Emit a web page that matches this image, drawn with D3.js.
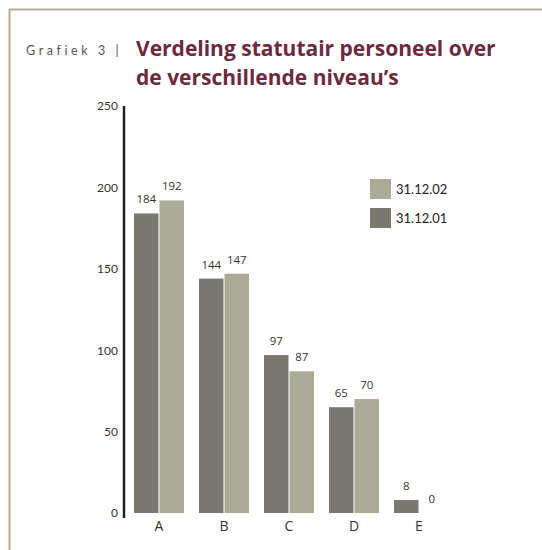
<!DOCTYPE html>
<html><head><meta charset="utf-8">
<script src="https://cdn.jsdelivr.net/npm/d3@7"></script>
<style>body{margin:0;background:#fff}svg{display:block}</style>
</head><body>
<script>
const categories = ["A","B","C","D","E"];
const series = ["31.12.01","31.12.02"];
const values2001 = [184,144,97,65,8];
const values2002 = [192,147,87,70,0];
const yTicks = [0,50,100,150,200,250];
const colors = {"31.12.01":"#7a7871","31.12.02":"#abaa96"};

const W=542,H=550;
const svg=d3.select("body").append("svg").attr("width",W).attr("height",H);
// frame
svg.append("line").attr("x1",9).attr("x2",W).attr("y1",9.5).attr("y2",9.5).attr("stroke","#b8ab90").attr("stroke-width",2);
svg.append("line").attr("x1",9.5).attr("x2",9.5).attr("y1",9).attr("y2",H).attr("stroke","#b8ab90").attr("stroke-width",2);

// titles
svg.append("text").attr("x",26).attr("y",55).attr("font-family","Lato, sans-serif").attr("font-size",12.5)
  .attr("letter-spacing",3.6).attr("fill","#555").text("Grafiek 3 |");
const t=svg.append("text").attr("font-family","Open Sans, sans-serif").attr("font-weight","bold").attr("font-size",21).attr("fill","#6c2a40");
t.append("tspan").attr("x",136).attr("y",56).text("Verdeling statutair personeel over");
t.append("tspan").attr("x",136).attr("y",85).text("de verschillende niveau’s");

const y=d3.scaleLinear().domain([0,250]).range([513,106]);
const x0=d3.scaleBand().domain(categories).range([134,444]).paddingInner(15/65).paddingOuter(0).align(0);
const x1=d3.scaleBand().domain(series).range([0,x0.bandwidth()]).paddingInner(0.04);

// axis
const ax=svg.append("g").attr("transform","translate(124,0)")
  .call(d3.axisLeft(y).tickValues(yTicks).tickSize(0).tickPadding(6));
ax.select(".domain").remove();
svg.append("line").attr("x1",124).attr("x2",124).attr("y1",106).attr("y2",518).attr("stroke","#222").attr("stroke-width",2.5);
ax.selectAll("text").attr("font-family","Lato, sans-serif").attr("font-size",12).attr("fill","#333");

const data=categories.map((c,i)=>({c,vals:[{s:"31.12.01",v:values2001[i]},{s:"31.12.02",v:values2002[i]}]}));
const g=svg.selectAll("g.grp").data(data).enter().append("g").attr("class","grp")
  .attr("transform",d=>`translate(${x0(d.c)},0)`);
g.selectAll("rect").data(d=>d.vals.filter(e=>e.v>0)).enter().append("rect")
  .attr("x",d=>x1(d.s)).attr("width",x1.bandwidth()).attr("y",d=>y(d.v)).attr("height",d=>y(0)-y(d.v)).attr("fill",d=>colors[d.s]);
g.selectAll("text.val").data(d=>d.vals).enter().append("text").attr("class","val")
  .attr("x",d=>x1(d.s)+x1.bandwidth()/2).attr("y",d=>y(d.v)-10).attr("text-anchor","middle")
  .attr("font-family","Open Sans, sans-serif").attr("font-size",11.5).attr("fill","#333").text(d=>d.v);
g.append("text").attr("x",x0.bandwidth()/2).attr("y",531).attr("text-anchor","middle")
  .attr("font-family","Open Sans, sans-serif").attr("font-size",14).attr("fill","#333").text(d=>d.c);

// legend
const leg=svg.selectAll("g.leg").data(["31.12.02","31.12.01"]).enter().append("g").attr("class","leg")
  .attr("transform",(d,i)=>`translate(370,${179+i*29})`);
leg.append("rect").attr("width",21).attr("height",20).attr("fill",d=>colors[d]);
leg.append("text").attr("x",26).attr("y",15).attr("font-family","Lato, sans-serif").attr("font-size",13).attr("fill","#222").text(d=>d);
</script>
</body></html>
